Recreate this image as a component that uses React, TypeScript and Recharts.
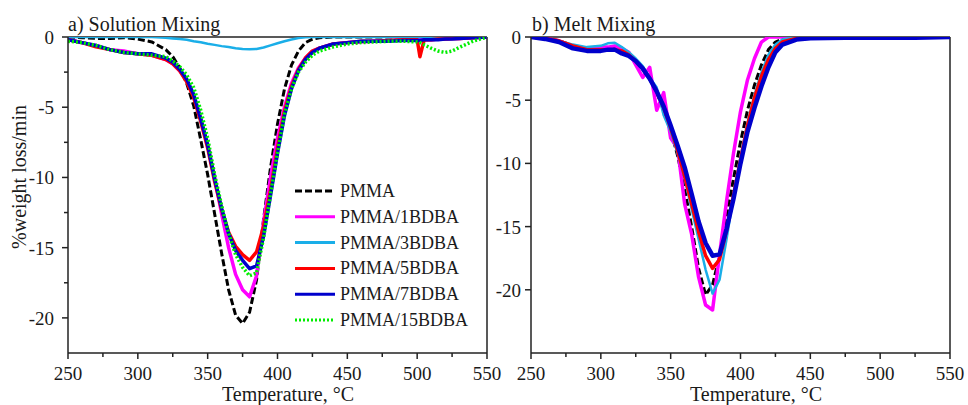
import React from 'react';
import { LineChart, Line, XAxis, YAxis, ReferenceLine } from 'recharts';

// ---------- Data: a) Solution Mixing ----------
const TL = [250, 260, 270, 280, 290, 300, 310, 320, 325, 330, 335, 340, 345, 350, 355, 360, 365, 370, 375, 380, 385, 390, 395, 400, 405, 410, 415, 420, 425, 430, 440, 450, 460, 470, 480, 490, 500, 502, 505, 510, 515, 520, 525, 530, 540, 550];
const L_PMMA = [0, -0.05, -0.1, -0.1, -0.05, -0.15, -0.35, -0.9, -1.4, -2.2, -3.3, -4.9, -7.3, -9.8, -12.6, -15.4, -18.0, -19.8, -20.4, -19.6, -17.3, -13.0, -9.3, -6.2, -3.7, -2.0, -1.0, -0.4, -0.15, -0.05, 0, 0, 0, 0, 0, 0, 0, 0, 0, 0, 0, 0, 0, 0, 0, 0];
const L_1BDBA = [-0.2, -0.4, -0.6, -0.9, -1.0, -1.2, -1.3, -1.6, -1.9, -2.4, -3.1, -4.2, -5.8, -7.7, -10.0, -12.6, -15.0, -16.9, -18.0, -18.5, -17.0, -13.2, -10.0, -7.2, -5.0, -3.3, -2.2, -1.5, -1.0, -0.8, -0.5, -0.4, -0.35, -0.3, -0.25, -0.2, -0.2, -0.2, -0.2, -0.2, -0.15, -0.15, -0.1, -0.1, -0.05, 0];
const L_3BDBA = [0, 0, 0, 0, 0, 0, 0, -0.05, -0.1, -0.15, -0.2, -0.3, -0.38, -0.48, -0.56, -0.65, -0.72, -0.8, -0.86, -0.88, -0.85, -0.75, -0.6, -0.45, -0.3, -0.18, -0.08, -0.02, 0, 0, 0, 0, 0, 0, 0, 0, 0, 0, 0, 0, 0, 0, 0, 0, 0, 0];
const L_5BDBA = [-0.2, -0.4, -0.7, -0.9, -1.1, -1.2, -1.3, -1.6, -1.9, -2.4, -3.2, -4.3, -6.0, -7.9, -10.3, -12.3, -13.9, -14.9, -15.5, -15.9, -15.3, -13.5, -10.9, -7.9, -5.3, -3.5, -2.3, -1.5, -1.0, -0.8, -0.5, -0.4, -0.3, -0.3, -0.25, -0.2, -0.2, -1.4, -0.2, -0.2, -0.15, -0.15, -0.1, -0.1, -0.05, 0];
const L_7BDBA = [-0.2, -0.4, -0.6, -0.9, -1.1, -1.2, -1.2, -1.5, -1.8, -2.3, -3.0, -4.1, -5.8, -7.7, -10.1, -12.2, -14.0, -15.2, -15.9, -16.5, -16.3, -14.2, -11.3, -8.3, -5.6, -3.7, -2.4, -1.6, -1.1, -0.8, -0.5, -0.4, -0.3, -0.3, -0.3, -0.25, -0.25, -0.25, -0.2, -0.2, -0.2, -0.15, -0.15, -0.1, -0.05, 0];
const L_15BDBA = [-0.3, -0.4, -0.6, -0.9, -1.1, -1.2, -1.3, -1.4, -1.7, -2.1, -2.7, -3.6, -5.2, -7.2, -9.8, -12.0, -14.0, -15.5, -16.4, -17.0, -16.8, -14.3, -11.2, -8.2, -5.5, -3.7, -2.5, -1.8, -1.3, -1.0, -0.7, -0.5, -0.4, -0.35, -0.3, -0.3, -0.35, -0.4, -0.55, -0.8, -1.0, -1.1, -1.0, -0.75, -0.3, 0];

// ---------- Data: b) Melt Mixing ----------
const TR = [250, 260, 270, 280, 290, 300, 305, 310, 315, 320, 325, 330, 335, 340, 345, 350, 355, 360, 365, 370, 375, 380, 385, 390, 395, 400, 405, 410, 415, 420, 425, 430, 440, 450, 475, 500, 525, 550];
const R_PMMA = [0, -0.1, -0.3, -0.7, -0.9, -0.9, -0.9, -0.8, -1.0, -1.3, -1.8, -2.4, -3.3, -4.4, -5.8, -7.4, -9.4, -12.0, -15.0, -18.3, -20.4, -19.6, -17.3, -14.2, -11.2, -8.3, -5.8, -3.8, -2.2, -1.0, -0.4, -0.15, 0, 0, 0, 0, 0, 0];
const R_1BDBA = [0, -0.1, -0.3, -0.7, -0.9, -0.8, -0.8, -0.7, -0.9, -1.2, -2.2, -3.2, -2.4, -5.8, -4.4, -8.0, -8.8, -13.2, -15.6, -19.0, -21.2, -21.6, -17.2, -13.0, -9.2, -5.9, -3.4, -1.7, -0.4, 0, 0, 0, 0, 0, 0, 0, 0, 0];
const R_3BDBA = [0, -0.1, -0.3, -0.6, -0.8, -0.7, -0.5, -0.45, -0.8, -1.2, -1.7, -2.3, -3.2, -4.0, -6.2, -7.5, -9.2, -11.2, -13.6, -16.0, -18.4, -20.3, -19.2, -16.0, -12.6, -9.5, -6.8, -4.6, -2.8, -1.4, -0.6, -0.2, 0, 0, 0, 0, 0, 0];
const R_5BDBA = [0, -0.1, -0.3, -0.7, -1.0, -1.0, -1.0, -1.0, -1.1, -1.4, -1.9, -2.5, -3.3, -4.3, -5.6, -7.2, -9.0, -11.0, -13.2, -15.4, -17.3, -18.3, -17.6, -15.3, -12.5, -9.7, -7.0, -4.8, -3.1, -1.8, -0.9, -0.4, -0.1, 0, 0, 0.05, 0, 0];
const R_7BDBA = [0, -0.15, -0.4, -0.9, -1.1, -1.1, -1.0, -1.0, -1.3, -1.5, -1.9, -2.5, -3.3, -4.3, -5.5, -7.0, -8.6, -10.3, -12.4, -14.6, -16.3, -17.3, -17.2, -15.2, -12.8, -10.0, -7.5, -5.6, -3.9, -2.4, -1.2, -0.6, -0.2, -0.1, -0.05, -0.05, -0.05, 0];

// ---------- Series / ticks ----------
const SERIES_NAMES = ['PMMA', 'PMMA/1BDBA', 'PMMA/3BDBA', 'PMMA/5BDBA', 'PMMA/7BDBA', 'PMMA/15BDBA'];
const SERIES_KEYS = ['pmma', 'b1', 'b3', 'b5', 'b7', 'b15'];
const SERIES_COLORS = ['#000000', '#ff00ff', '#1aaee8', '#ff0000', '#0000cc', '#00ee00'];
const SERIES_DASH = ['7 3', undefined, undefined, undefined, undefined, '2 2'];
const X_TICKS = [250, 275, 300, 325, 350, 375, 400, 425, 450, 475, 500, 525, 550];
const YL_TICKS = [0, -2.5, -5, -7.5, -10, -12.5, -15, -17.5, -20];
const YR_TICKS = [0, -5, -10, -15, -20];

const leftRows = TL.map((t, i) => ({
  T: t, pmma: L_PMMA[i], b1: L_1BDBA[i], b3: L_3BDBA[i], b5: L_5BDBA[i], b7: L_7BDBA[i], b15: L_15BDBA[i],
}));
const rightRows = TR.map((t, i) => ({
  T: t, pmma: R_PMMA[i], b1: R_1BDBA[i], b3: R_3BDBA[i], b5: R_5BDBA[i], b7: R_7BDBA[i],
}));

const FONT = '"Liberation Serif", "Times New Roman", Times, serif';
const AX = '#222';

const XTick = (props: any) => {
  const { x, y, payload } = props;
  const v = payload.value;
  const major = v % 50 === 0;
  return (
    <g>
      <line x1={x} x2={x} y1={y} y2={y + (major ? 6 : 4)} stroke={AX} strokeWidth={1.5} />
      {major && (
        <text x={x} y={y + 27} textAnchor="middle" fontFamily={FONT} fontSize={19} fill="#1a1a1a">{v}</text>
      )}
    </g>
  );
};

const makeYTick = (gap: number) => (props: any) => {
  const { x, y, payload } = props;
  const v = payload.value;
  const major = v % 5 === 0;
  return (
    <g>
      <line x1={x} x2={x - (major ? 6 : 4)} y1={y} y2={y} stroke={AX} strokeWidth={1.5} />
      {major && (
        <text x={x - gap} y={y + 7} textAnchor="end" fontFamily={FONT} fontSize={19} fill="#1a1a1a">{String(v)}</text>
      )}
    </g>
  );
};

const YTickL = makeYTick(14);
const YTickR = makeYTick(10);

function Panel({ rows, width, yAxisWidth, marginRight, yDomain, yTicks, yTick, keys, widths }: any) {
  return (
    <LineChart width={width} height={405} data={rows} margin={{ top: 37, right: marginRight, bottom: 0, left: 0 }}>
      <XAxis
        dataKey="T" type="number" domain={[250, 550]} ticks={X_TICKS} interval={0}
        tick={XTick} tickLine={false} tickSize={0} tickMargin={0} height={52}
        axisLine={{ stroke: AX, strokeWidth: 1.5 }} allowDataOverflow
      />
      <YAxis
        type="number" domain={yDomain} ticks={yTicks} interval={0}
        tick={yTick} tickLine={false} tickSize={0} tickMargin={0} width={yAxisWidth}
        axisLine={{ stroke: AX, strokeWidth: 1.5 }} allowDataOverflow
      />
      <ReferenceLine y={0} stroke={AX} strokeWidth={1.5} />
      <ReferenceLine x={550} stroke={AX} strokeWidth={1.5} />
      {keys.map((k: string, i: number) => {
        const idx = SERIES_KEYS.indexOf(k);
        return (
          <Line
            key={k} dataKey={k} type="linear" dot={false} isAnimationActive={false}
            stroke={SERIES_COLORS[idx]} strokeWidth={widths[i]} strokeDasharray={SERIES_DASH[idx]}
            strokeLinejoin="round"
          />
        );
      })}
    </LineChart>
  );
}

export default function App() {
  const legendTop = 191;
  const legendStep = 25.8;
  return (
    <div style={{ position: 'absolute', left: 0, top: 0, width: 968, height: 405, background: '#fff', overflow: 'hidden' }}>
      <div style={{ position: 'absolute', left: 0, top: 0 }}>
        <Panel rows={leftRows} width={522} yAxisWidth={68} marginRight={35} yDomain={[-22.5, 0]} yTicks={YL_TICKS}
          yTick={YTickL} keys={['pmma', 'b1', 'b3', 'b5', 'b7', 'b15']} widths={[3, 3.5, 2.5, 3.5, 3.5, 3.5]} />
      </div>
      <div style={{ position: 'absolute', left: 490, top: 0 }}>
        <Panel rows={rightRows} width={478} yAxisWidth={41} marginRight={18} yDomain={[-25, 0]} yTicks={YR_TICKS}
          yTick={YTickR} keys={['pmma', 'b1', 'b3', 'b5', 'b7']} widths={[3, 3.5, 2.5, 3.5, 4.5]} />
      </div>
      <svg width={968} height={405} style={{ position: 'absolute', left: 0, top: 0, pointerEvents: 'none' }}>
        <text x={68} y={31} fontFamily={FONT} fontSize={20} fill="#1a1a1a">a) Solution Mixing</text>
        <text x={532} y={31} fontFamily={FONT} fontSize={20} fill="#1a1a1a">b) Melt Mixing</text>
        <text x={288} y={401} textAnchor="middle" fontFamily={FONT} fontSize={20} fill="#1a1a1a">Temperature,  °C</text>
        <text x={756} y={401} textAnchor="middle" fontFamily={FONT} fontSize={20} fill="#1a1a1a">Temperature,  °C</text>
        <text x={26} y={177} textAnchor="middle" transform="rotate(-90 26 177)" fontFamily={FONT} fontSize={20} fill="#1a1a1a">%weight loss/min</text>
        {SERIES_NAMES.map((name, i) => {
          const cy = legendTop + i * legendStep;
          return (
            <g key={name}>
              <line x1={295} x2={335} y1={cy} y2={cy} stroke={SERIES_COLORS[i]} strokeWidth={3} strokeDasharray={SERIES_DASH[i]} />
              <text x={340} y={cy + 6} fontFamily={FONT} fontSize={18} fill="#1a1a1a">{name}</text>
            </g>
          );
        })}
      </svg>
    </div>
  );
}
